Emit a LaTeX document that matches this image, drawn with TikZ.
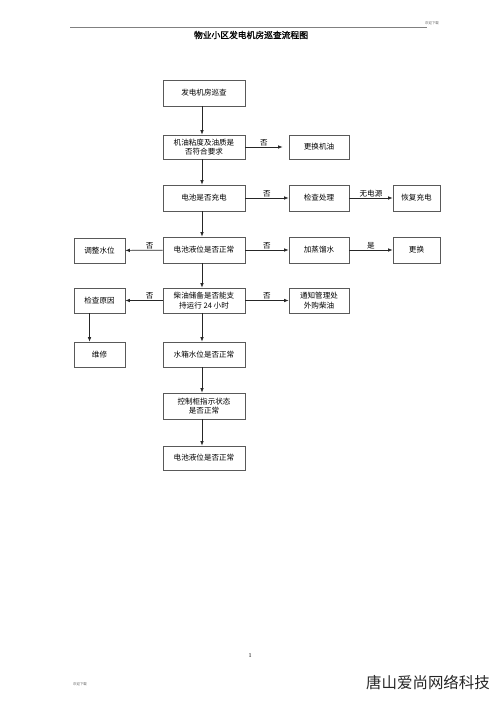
\documentclass[tikz,border=0pt]{standalone}
\usepackage{fontspec}
\setmainfont{Liberation Serif}
\newfontfamily\cjk{Noto Sans CJK SC}
\newfontfamily\cjktitle[FakeBold=1.2]{Noto Sans CJK SC}
\usetikzlibrary{arrows.meta}
\begin{document}
\begin{tikzpicture}[x=1bp,y=-1bp,
  box/.style={draw=black!65,line width=0.6pt,minimum width=82bp,minimum height=26bp,inner sep=1pt,align=center,font=\cjk\fontsize{7.6}{9.5}\selectfont},
  sbox/.style={box,minimum width=60bp},
  tbox/.style={box,minimum width=51bp},
  arr/.style={draw=black!85,line width=0.7pt,-{Latex[length=4.5bp,width=3.5bp]}},
  lab/.style={font=\cjk\fontsize{7.6}{9}\selectfont,inner sep=1pt,above}]
\useasboundingbox (0,0) rectangle (500,707);
% header / footer
\draw[black!50,line width=0.4pt] (70,27) -- (427,27);
\node[font=\cjk\fontsize{3.5}{4}\selectfont,text=black!60] (hdr) at (432,23) {欢迎下载};
\node[font=\cjktitle\fontsize{8.8}{10}\selectfont] (title) at (251,35) {物业小区发电机房巡查流程图};
\node[font=\fontsize{6}{7}\selectfont] (pg) at (250,656) {1};
\node[font=\cjk\fontsize{3.5}{4}\selectfont,text=black!60] (ftr) at (80,684) {欢迎下载};
\node[font=\cjk\fontsize{15.5}{17}\selectfont,text=black!85] (wm) at (428,683) {唐山爱尚网络科技};
% boxes
\node[box] (a1) at (204,93) {发电机房巡查};
\node[box,minimum height=24bp] (a2) at (204,147) {机油粘度及油质是\\否符合要求};
\node[sbox,minimum height=24bp] (b2) at (319,147) {更换机油};
\node[box] (a3) at (204,198) {电池是否充电};
\node[sbox] (b3) at (319,198) {检查处理};
\node[box,minimum width=47bp] (c3) at (416.5,198) {恢复充电};
\node[box] (a4) at (204,250) {电池液位是否正常};
\node[tbox,minimum height=25bp] (l4) at (99.5,250.5) {调整水位};
\node[sbox] (b4) at (319,250) {加蒸馏水};
\node[box,minimum width=47bp] (c4) at (416.5,250) {更换};
\node[box,minimum height=25bp] (a5) at (204,300.5) {柴油储备是否能支\\持运行 24 小时};
\node[tbox,minimum height=25bp] (l5) at (99.5,300.5) {检查原因};
\node[sbox,minimum height=25bp] (b5) at (319,300.5) {通知管理处\\外购柴油};
\node[tbox,minimum height=25bp] (l6) at (99.5,354.5) {维修};
\node[box,minimum height=25bp] (a6) at (204,354.5) {水箱水位是否正常};
\node[box] (a7) at (204,406) {控制柜指示状态\\是否正常};
\node[box,minimum height=24bp] (a8) at (204,458) {电池液位是否正常};
% connectors
\draw[arr] ([xshift=-2]a1.south) -- ([xshift=-2]a2.north);
\draw[arr] (a2) -- node[lab]{否} ([xshift=-6]b2.west);
\draw[arr] ([xshift=-2]a2.south) -- ([xshift=-2]a3.north);
\draw[arr] (a3) -- node[lab]{否} (b3);
\draw[arr] (b3) -- node[lab]{无电源} (c3);
\draw[arr] ([xshift=-2]a3.south) -- ([xshift=-2]a4.north);
\draw[arr] (a4) -- node[lab,pos=0.35]{否} (l4);
\draw[arr] (a4) -- node[lab]{否} (b4);
\draw[arr] (b4) -- node[lab]{是} (c4);
\draw[arr] ([xshift=-2]a4.south) -- ([xshift=-2]a5.north);
\draw[arr] (a5) -- node[lab,pos=0.35]{否} (l5);
\draw[arr] (a5) -- node[lab]{否} (b5);
\draw[arr] ([xshift=-10]l5.south) -- ([xshift=-10]l6.north);
\draw[arr] ([xshift=-2]a5.south) -- ([xshift=-2]a6.north);
\draw[arr] ([xshift=-2]a6.south) -- ([xshift=-2]a7.north);
\draw[arr] ([xshift=-2]a7.south) -- ([xshift=-2]a8.north);
\end{tikzpicture}
\end{document}
